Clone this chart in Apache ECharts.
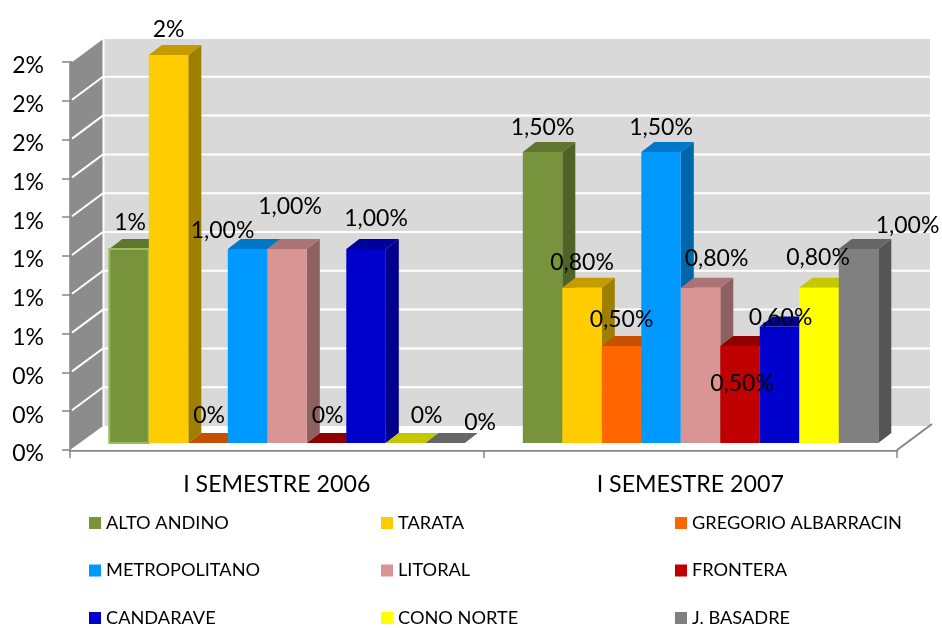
<!DOCTYPE html>
<html><head><meta charset="utf-8">
<style>html,body{margin:0;padding:0;background:#fff}#c{width:942px;height:628px}</style>
<script src="https://cdn.jsdelivr.net/npm/echarts@6/dist/echarts.min.js"></script>
</head><body><div id="c"></div>
<script>
const categories = ['I SEMESTRE 2006', 'I SEMESTRE 2007'];
const yTicks = [0, 0.2, 0.4, 0.6, 0.8, 1, 1.2, 1.4, 1.6, 1.8, 2];
const yTickLabels = ['0%','0%','0%','1%','1%','1%','1%','1%','2%','2%','2%'];
const seriesNames = ['ALTO ANDINO','TARATA','GREGORIO ALBARRACIN','METROPOLITANO','LITORAL','FRONTERA','CANDARAVE','CONO NORTE','J. BASADRE'];
const altoAndino = [1, 1.5];
const tarata = [2, 0.8];
const gregorio = [0, 0.5];
const metropolitano = [1, 1.5];
const litoral = [1, 0.8];
const frontera = [0, 0.5];
const candarave = [1, 0.6];
const conoNorte = [0, 0.8];
const basadre = [0, 1];
const allValues = [altoAndino, tarata, gregorio, metropolitano, litoral, frontera, candarave, conoNorte, basadre];
const labels2006 = ['1%','2%','0%','1,00%','1,00%','0%','1,00%','0%','0%'];
const labels2007 = ['1,50%','0,80%','0,50%','1,50%','0,80%','0,50%','0,60%','0,80%','1,00%'];
const frontColors = ['#77933C','#FFCC00','#FF6600','#0099FF','#D99594','#C00000','#0000CC','#FFFF00','#808080'];
const topColors = ['#5F7530','#C49C00','#C45000','#0077C7','#A97473','#900000','#00009F','#C7C700','#666666'];
const sideColors = ['#4F6228','#9E7F00','#A04000','#0066AA','#8D6160','#7A0000','#00008A','#A0A000','#555555'];
// label offsets relative to top-centre of each bar's front face
const labelShift2006 = [[1,-26],[0,-25],[1,-27],[-25,-18],[3,-42],[1,-27],[10,-30],[21,-27],[35,-20]];
const labelShift2007 = [[0,-24],[0,-25],[0,-26],[0,-24],[16,-29],[2,38],[1,-9],[-1,-30],[49,-23]];

const BAR_W = 39.5, BAR_DX = 13, BAR_DY = 10, FRONT_DX = 10.3, FRONT_DY = 7, GROUP_PAD = 177.75;
const WALL_DX = 33, WALL_DY = 24;

function barRect(api, cat, idx, v) {
  const c = api.coord([cat, 0]);
  const top = api.coord([cat, v]);
  const x = c[0] + FRONT_DX - GROUP_PAD + idx * BAR_W;
  return { x, x2: x + BAR_W, y0: c[1] - FRONT_DY, y1: top[1] - FRONT_DY };
}
function poly(pts, fill, extra) {
  return Object.assign({ type: 'polygon', shape: { points: pts }, style: { fill } }, extra || {});
}
function barSeries(idx) {
  return {
    name: seriesNames[idx], type: 'custom', coordinateSystem: 'cartesian2d', clip: false, z: 5 + idx,
    itemStyle: { color: frontColors[idx] },
    encode: { x: 0, y: 1 },
    data: categories.map((c, i) => [i, allValues[idx][i]]),
    renderItem(params, api) {
      const cat = api.value(0);
      const r = barRect(api, cat, idx, api.value(1));
      const kids = [];
      kids.push(poly([[r.x2, r.y0], [r.x2 + BAR_DX, r.y0 - BAR_DY], [r.x2 + BAR_DX, r.y1 - BAR_DY], [r.x2, r.y1]], sideColors[idx]));
      kids.push(poly([[r.x, r.y1], [r.x + BAR_DX, r.y1 - BAR_DY], [r.x2 + BAR_DX, r.y1 - BAR_DY], [r.x2, r.y1]], topColors[idx]));
      if (r.y0 - r.y1 > 0.5) {
        const bordered = idx === 0 && cat === 0;
        kids.push({ type: 'rect', shape: { x: r.x, y: r.y1, width: BAR_W, height: r.y0 - r.y1 },
          style: { fill: frontColors[idx], stroke: bordered ? '#9BBB59' : null, lineWidth: bordered ? 2 : 0 } });
      }
      return { type: 'group', children: kids };
    }
  };
}
const frameSeries = {
  type: 'custom', coordinateSystem: 'cartesian2d', clip: false, z: 1, silent: true,
  data: [[0, 0]],
  renderItem(params, api) {
    const a = api.coord([0, 0]), b = api.coord([0, 2]), sz = api.size([1, 0])[0];
    const xL = a[0] - sz / 2, xR = a[0] + sz * 1.5, yB = a[1], yT = b[1];
    const kids = [
      poly([[xL + WALL_DX, yB - WALL_DY], [xR + WALL_DX, yB - WALL_DY], [xR, yB], [xL, yB]], '#fff'),
      { type: 'rect', shape: { x: xL + WALL_DX, y: yT - WALL_DY, width: xR - xL, height: yB - yT }, style: { fill: '#D9D9D9' } },
      poly([[xL, yB], [xL + WALL_DX, yB - WALL_DY], [xL + WALL_DX, yT - WALL_DY], [xL, yT]], '#8C8C8C'),
      { type: 'line', shape: { x1: xL + WALL_DX + 0.5, y1: yT - WALL_DY, x2: xL + WALL_DX + 0.5, y2: yB - WALL_DY }, style: { stroke: '#fff', lineWidth: 2 } },
      { type: 'line', shape: { x1: xR, y1: yB, x2: xR + WALL_DX + 2, y2: yB - WALL_DY - 2 }, style: { stroke: '#868686', lineWidth: 2 } }
    ];
    yTicks.forEach(t => {
      if (t === 0) return;
      const y = api.coord([0, t])[1];
      kids.push({ type: 'polyline', shape: { points: [[xL + 2, y - 1], [xL + WALL_DX, y - WALL_DY], [xR + WALL_DX, y - WALL_DY]] },
        style: { stroke: '#fff', lineWidth: 2, fill: null } });
    });
    return { type: 'group', children: kids };
  }
};
const labelData = [];
seriesNames.forEach((n, i) => categories.forEach((c, k) => labelData.push([k, allValues[i][k], i])));
const labelSeries = {
  type: 'custom', coordinateSystem: 'cartesian2d', clip: false, z: 30, silent: true,
  data: labelData,
  renderItem(params, api) {
    const cat = api.value(0), idx = api.value(2);
    const r = barRect(api, cat, idx, api.value(1));
    const s = (cat === 0 ? labelShift2006 : labelShift2007)[idx];
    return { type: 'text', x: (r.x + r.x2) / 2 + s[0], y: r.y1 + s[1],
      style: { text: (cat === 0 ? labels2006 : labels2007)[idx], fill: '#000', font: '23px Lato', textAlign: 'center', textVerticalAlign: 'middle' } };
  }
};
function legendCol(left, names) {
  return { left, top: 513.5, padding: 0, orient: 'vertical', icon: 'rect', itemWidth: 12, itemHeight: 12, itemGap: 28.5, height: 114.5,
    data: names, selectedMode: false, textStyle: { fontFamily: 'Lato', fontSize: 18.2, color: '#000', lineHeight: 19 } };
}
const chart = echarts.init(document.getElementById('c'), null, { renderer: 'canvas' });
chart.setOption({
  animation: false,
  backgroundColor: '#fff',
  textStyle: { fontFamily: 'Lato' },
  grid: { left: 70, top: 62, width: 827, height: 388, containLabel: false },
  xAxis: { type: 'category', data: categories,
    axisLine: { lineStyle: { color: '#868686', width: 2.5 } },
    axisTick: { show: true, length: 8, lineStyle: { color: '#868686', width: 1.5 } },
    axisLabel: { color: '#000', fontSize: 23.2, fontFamily: 'Lato', margin: 23 }, splitLine: { show: false } },
  yAxis: { type: 'value', min: 0, max: 2, interval: 0.2,
    axisLine: { show: true, lineStyle: { color: '#868686', width: 1.5 } },
    axisTick: { show: true, length: 8, lineStyle: { color: '#868686', width: 1.5 } },
    axisLabel: { color: '#000', fontSize: 23, fontFamily: 'Lato', margin: 26, verticalAlign: 'top', lineHeight: 8, formatter: v => yTickLabels[Math.round(v / 0.2)] },
    splitLine: { show: false } },
  legend: [legendCol(89, seriesNames.filter((n, i) => i % 3 === 0)), legendCol(381, seriesNames.filter((n, i) => i % 3 === 1)), legendCol(675, seriesNames.filter((n, i) => i % 3 === 2))],
  series: [frameSeries].concat(seriesNames.map((n, i) => barSeries(i)), [labelSeries])
});
</script></body></html>
